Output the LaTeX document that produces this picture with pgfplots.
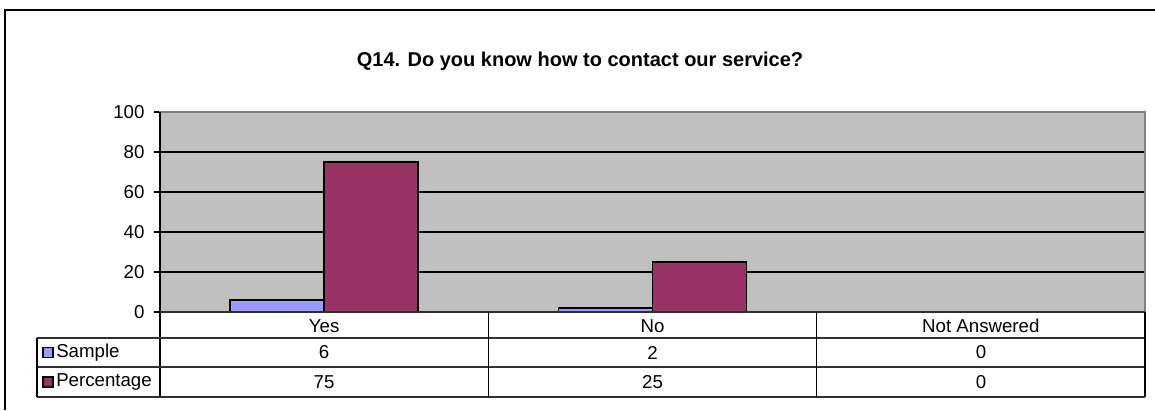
\documentclass[border=0pt]{standalone}
\usepackage{fontspec}
\setmainfont{Liberation Sans}
\usepackage{pgfplots}
\pgfplotsset{compat=1.18}
\definecolor{plotgray}{HTML}{C0C0C0}
\definecolor{bordergray}{HTML}{808080}
\definecolor{sampleblue}{HTML}{9999FF}
\definecolor{pctred}{HTML}{993366}
\definecolor{tabline}{HTML}{303030}
\newcommand{\tfont}{\fontsize{14}{16}\selectfont}
\begin{document}
\begin{tikzpicture}
\useasboundingbox (0,0) rectangle (866.25pt,-307.5pt);
\begin{axis}[
  at={(120pt,-234pt)}, anchor=south west, scale only axis,
  width=738.75pt, height=150pt,
  xmin=-0.5, xmax=2.5, ymin=0, ymax=100,
  ytick={0,20,40,60,80,100},
  xtick={0,1,2}, xticklabels={Yes,No,Not Answered},
  ymajorgrids, grid style={black, line width=0.8pt},
  axis background/.style={fill=plotgray},
  axis line style={draw=none},
  tick align=outside, major tick length=4.5pt,
  xtick style={draw=none}, ytick style={black, line width=0.8pt},
  ytick pos=left, xtick pos=bottom,
  ticklabel style={font=\tfont},
  /pgf/number format/assume math mode=true,
  yticklabel style={xshift=-3.6pt},
  xticklabel style={anchor=center, yshift=-6pt},
  ybar=0pt, bar width=70.5pt,
  every axis plot/.append style={draw=black, line width=1.1pt},
  clip=false,
]
\addplot[fill=sampleblue] coordinates {(0,6) (1,2) (2,0)};
\addplot[fill=pctred] coordinates {(0,75) (1,25) (2,0)};
\end{axis}
\begin{scope}[x=0.75pt,y=-0.75pt]
  % outer chart frame (only left and top visible)
  \draw[line width=1.1pt] (5,410) -- (5,10) -- (1160,10);
  % title
  \node[font=\fontsize{15}{18}\selectfont\bfseries] at (580,61) {Q14. Do you know how to contact our service?};
  % plot area border
  \draw[bordergray, line width=1.5pt] (160,312) -- (160,112) -- (1145,112) -- (1145,312);
  \draw[black, line width=0.9pt] (160,112) -- (160,397);
  % data table
  \draw[tabline, line width=0.9pt] (160,312) -- (1145,312);
  \draw[tabline, line width=0.9pt] (37,338) -- (1145,338);
  \draw[tabline, line width=0.9pt] (37,367) -- (1145,367);
  \draw[tabline, line width=0.9pt] (37,397) -- (1145,397);
  \draw[black, line width=0.8pt] (37,338) -- (37,397);
  \draw[black, line width=0.8pt] (488.3,312) -- (488.3,397);
  \draw[black, line width=0.8pt] (816.7,312) -- (816.7,397);
  \draw[black, line width=0.8pt] (1145,312) -- (1145,397);
  % legend keys
  \draw[black, line width=1pt, fill=sampleblue] (43,347.5) rectangle (53,357.5);
  \draw[black, line width=1pt, fill=pctred] (43,377) rectangle (53,387);
  \node[font=\tfont, anchor=west, inner sep=0pt] at (56,352.5) {Sample};
  \node[font=\tfont, anchor=west, inner sep=0pt] at (56,382) {Percentage};
  % table values
  \node[font=\tfont] at (324,352.5) {6};
  \node[font=\tfont] at (652.5,352.5) {2};
  \node[font=\tfont] at (981,352.5) {0};
  \node[font=\tfont] at (324,382) {75};
  \node[font=\tfont] at (652.5,382) {25};
  \node[font=\tfont] at (981,382) {0};
\end{scope}
\end{tikzpicture}
\end{document}
